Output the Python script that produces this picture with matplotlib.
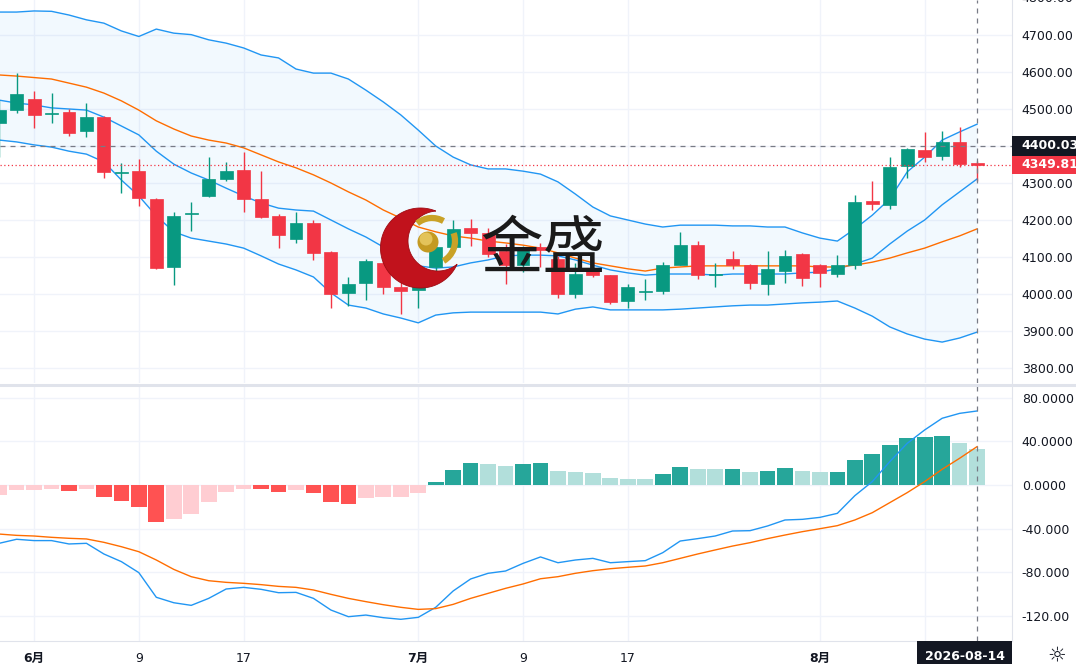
import numpy as np
import pandas as pd
import matplotlib
matplotlib.use("Agg")
import matplotlib.pyplot as plt
import matplotlib.transforms as mtransforms
from matplotlib.patches import Rectangle, Circle, Arc, Polygon

plt.rcParams['font.family'] = ['DejaVu Sans', 'Noto Sans CJK SC']

# trading days on screen
dates = pd.bdate_range("2026-05-28", "2026-08-14")

opens = [4462, 4498, 4527, 4487, 4492, 4441, 4478, 4328, 4333, 4258,
         4072, 4217, 4264, 4312, 4335, 4258, 4210, 4148, 4193, 4113,
         4002, 4031, 4084, 4020, 4010, 4072, 4126, 4178, 4165, 4117,
         4077, 4126, 4095, 4001, 4068, 4050, 3980, 4006, 4009, 4079,
         4133, 4052, 4095, 4079, 4027, 4063, 4107, 4079, 4054, 4079,
         4251, 4240, 4347, 4389, 4373, 4410, 4352]
highs = [4525, 4596, 4548, 4544, 4500, 4517, 4481, 4354, 4364, 4260,
         4221, 4249, 4371, 4356, 4385, 4332, 4215, 4221, 4199, 4116,
         4045, 4095, 4090, 4036, 4070, 4135, 4199, 4204, 4178, 4135,
         4130, 4137, 4104, 4083, 4095, 4052, 4027, 4041, 4087, 4167,
         4142, 4083, 4117, 4082, 4117, 4119, 4111, 4081, 4106, 4267,
         4305, 4371, 4395, 4437, 4441, 4451, 4360]
lows = [4370, 4490, 4449, 4463, 4428, 4425, 4313, 4272, 4237, 4068,
        4025, 4170, 4262, 4306, 4221, 4205, 4123, 4139, 4093, 3962,
        3968, 3984, 4001, 3947, 3962, 4062, 4120, 4131, 4100, 4027,
        4059, 4074, 3988, 3990, 4045, 3973, 3963, 3984, 4000, 4078,
        4040, 4020, 4068, 4013, 3998, 4030, 4022, 4020, 4045, 4068,
        4226, 4231, 4314, 4357, 4362, 4344, 4305]
closes = [4498, 4540, 4484, 4490, 4435, 4478, 4330, 4331, 4260, 4070,
          4211, 4220, 4310, 4333, 4258, 4208, 4160, 4193, 4111, 3999,
          4027, 4090, 4018, 4008, 4065, 4126, 4176, 4166, 4108, 4077,
          4124, 4120, 4001, 4054, 4050, 3977, 4018, 4009, 4079, 4133,
          4051, 4055, 4078, 4030, 4068, 4104, 4042, 4057, 4077, 4248,
          4243, 4344, 4392, 4369, 4410, 4351, 4349.81]

bb_upper = [4762, 4762, 4765, 4764, 4754, 4741, 4732, 4711, 4696, 4716,
            4705, 4701, 4687, 4678, 4665, 4646, 4638, 4608, 4597, 4597,
            4581, 4551, 4519, 4484, 4443, 4400, 4370, 4349, 4338, 4338,
            4332, 4324, 4303, 4270, 4235, 4211, 4200, 4189, 4181, 4186,
            4186, 4186, 4184, 4184, 4181, 4181, 4165, 4151, 4143, 4176,
            4213, 4257, 4330, 4370, 4416, 4438, 4459]
bb_mid = [4592, 4589, 4585, 4581, 4570, 4559, 4543, 4522, 4497, 4468,
          4446, 4427, 4416, 4408, 4395, 4376, 4357, 4341, 4322, 4300,
          4276, 4254, 4227, 4205, 4181, 4168, 4157, 4151, 4143, 4138,
          4132, 4124, 4111, 4097, 4084, 4076, 4068, 4062, 4070, 4073,
          4076, 4076, 4076, 4076, 4076, 4076, 4076, 4073, 4073, 4078,
          4086, 4097, 4111, 4124, 4141, 4157, 4176]
bb_lower = [4416, 4411, 4403, 4397, 4386, 4378, 4357, 4308, 4265, 4211,
            4168, 4151, 4143, 4135, 4124, 4103, 4081, 4065, 4046, 4003,
            3970, 3962, 3946, 3935, 3922, 3943, 3949, 3951, 3951, 3951,
            3951, 3951, 3946, 3959, 3965, 3957, 3957, 3957, 3957, 3959,
            3962, 3965, 3968, 3970, 3970, 3973, 3976, 3978, 3981, 3962,
            3940, 3911, 3892, 3878, 3870, 3881, 3897]
ma_short = [4524, 4516, 4511, 4503, 4500, 4497, 4478, 4454, 4430, 4386,
            4351, 4327, 4308, 4286, 4265, 4246, 4232, 4227, 4224, 4200,
            4176, 4154, 4127, 4100, 4076, 4070, 4073, 4084, 4092, 4103,
            4105, 4105, 4103, 4092, 4078, 4065, 4057, 4051, 4054, 4054,
            4054, 4051, 4054, 4054, 4054, 4054, 4057, 4059, 4068, 4081,
            4097, 4135, 4170, 4200, 4241, 4276, 4311]

macd = [-53.5, -49.8, -51.0, -51.0, -54.1, -53.5, -63.3, -70.3, -80.4, -103.0,
        -108.0, -110.4, -104.0, -95.4, -93.9, -95.7, -98.8, -98.5, -104.0, -114.7,
        -120.8, -119.3, -121.7, -123.2, -121.4, -112.2, -97.2, -86.2, -81.0, -78.9,
        -71.9, -66.0, -71.3, -68.8, -67.3, -71.3, -70.3, -69.4, -62.1, -51.4,
        -49.2, -46.8, -42.2, -41.9, -37.6, -32.1, -31.5, -29.7, -26.0, -9.8,
        3.1, 21.4, 38.2, 50.5, 61.2, 65.7, 67.9]
signal = [-45.0, -46.2, -46.8, -48.0, -48.9, -49.5, -52.6, -56.6, -61.2, -68.8,
          -77.4, -84.1, -87.8, -89.3, -90.2, -91.4, -93.0, -93.9, -96.3, -100.3,
          -104.0, -107.0, -109.8, -112.2, -114.1, -113.4, -109.5, -104.0, -99.4, -94.8,
          -90.8, -86.0, -84.1, -81.0, -78.6, -76.8, -75.5, -74.3, -71.3, -67.3,
          -63.3, -59.6, -56.0, -52.9, -49.2, -45.9, -42.8, -40.1, -37.3, -32.1,
          -25.4, -16.2, -7.0, 3.1, 14.4, 24.5, 35.2]
hist = [-9.2, -4.6, -4.4, -3.7, -5.5, -3.7, -11.3, -14.4, -19.9, -33.6,
        -31.5, -26.6, -15.9, -6.1, -3.7, -4.0, -6.1, -4.6, -7.6, -15.9,
        -17.4, -11.6, -11.4, -11.0, -7.0, 3.1, 13.8, 19.9, 19.6, 17.7,
        19.0, 20.5, 12.8, 11.9, 10.7, 6.1, 5.5, 5.3, 10.1, 16.2,
        15.0, 14.4, 15.0, 12.2, 13.1, 15.6, 12.8, 11.6, 12.2, 22.9,
        28.4, 36.7, 43.4, 44.3, 45.0, 38.8, 33.3]

tick_days = ["2026-06-01", "2026-06-09", "2026-06-17", "2026-07-01",
             "2026-07-09", "2026-07-17", "2026-08-03", "2026-08-11"]
price_ticks = [3800, 3900, 4000, 4100, 4200, 4300, 4400, 4500, 4600, 4700]
macd_ticks = [80, 40, 0, -40, -80, -120]
macd_labels = ["80.0000", "40.0000", "0.0000", "-40.000", "-80.000", "-120.00"]
cross_price = 4400.03
cross_date = "2026-08-14"

UP, DOWN = '#089981', '#f23645'
BLUE, ORANGE = '#2196f3', '#ff6d00'
TXT, GRID = '#131722', '#f0f3fa'

W, H = 1076, 664
fig = plt.figure(figsize=(W / 100, H / 100), dpi=100)
ax1 = fig.add_axes([0, 281 / H, 1012 / W, 383 / H])
ax2 = fig.add_axes([0, 23 / H, 1012 / W, 255 / H])

x = np.arange(len(dates))
o, h, l, c = map(np.array, (opens, highs, lows, closes))
ci = dates.get_loc(pd.Timestamp(cross_date))

tick_idx = [dates.get_loc(pd.Timestamp(d)) for d in tick_days]
tick_lab = []
for i in tick_idx:
    if abs(i - ci) < 4:
        tick_lab.append("")          # hidden under the crosshair date label
    elif i == 0 or dates[i].month != dates[i - 1].month:
        tick_lab.append(f"{dates[i].month}月")
    else:
        tick_lab.append(str(dates[i].day))

for ax in (ax1, ax2):
    ax.set_xlim(0.05, 58.0)
    ax.grid(True, color=GRID, lw=1)
    ax.set_axisbelow(True)
    ax.yaxis.tick_right()
    ax.tick_params(axis='y', length=0, pad=7, labelsize=9, labelcolor=TXT)
    ax.tick_params(axis='x', length=0)
    for s in ['top', 'left', 'bottom']:
        ax.spines[s].set_visible(False)
    ax.spines['right'].set_color('#e0e3eb')
    ax.set_xticks(tick_idx)

# main pane
ax1.set_ylim(3759.4, 4794.6)
ax1.set_yticks(price_ticks)
# scale labels covered by the crosshair price box are not shown
ax1.set_yticklabels(["" if abs(v - cross_price) < 30 else f"{v:.2f}" for v in price_ticks])
ax1.set_xticklabels([])

ax1.fill_between(x, bb_lower, bb_upper, color=BLUE, alpha=0.055, lw=0)
ax1.plot(x, bb_upper, color=BLUE, lw=1)
ax1.plot(x, bb_lower, color=BLUE, lw=1)
ax1.plot(x, ma_short, color=BLUE, lw=1)
ax1.plot(x, bb_mid, color=ORANGE, lw=1)

col = np.where(c >= o, UP, DOWN)
ax1.vlines(x, l, h, colors=col, lw=1, zorder=3)
ax1.bar(x, np.maximum(np.abs(c - o), 3), bottom=np.minimum(o, c), width=0.74,
        color=col, edgecolor=col, lw=0.5, zorder=4)

ax1.axhline(cross_price, color='#787b86', lw=0.9, ls=(0, (4, 4)), zorder=5)
ax1.axhline(c[-1], color=DOWN, lw=0.9, ls=(0, (1, 2)), zorder=5)
ax1.axvline(ci, color='#787b86', lw=0.9, ls=(0, (4, 4)), zorder=5)

trans1 = mtransforms.blended_transform_factory(ax1.transAxes, ax1.transData)
px = (4794.6 - 3759.4) / 383
ax1.text(1.0 + 9.7 / 1012, 4800, "4800.00", transform=trans1, ha='left', va='center',
         fontsize=9, color=TXT, clip_on=False)
for val, fc, hh in [(cross_price, TXT, 10), (c[-1], DOWN, 9)]:
    ax1.add_patch(Rectangle((1.0, val - hh * px), 0.07, 2 * hh * px, transform=trans1,
                            fc=fc, ec='none', clip_on=False, zorder=10))
    ax1.text(1.0 + 9.7 / 1012, val, f"{val:.2f}", transform=trans1, ha='left', va='center',
             fontsize=9, color='white', fontweight='bold', clip_on=False, zorder=11)

# MACD pane
ax2.set_ylim(-143.1, 90.8)
ax2.set_yticks(macd_ticks)
ax2.set_yticklabels(macd_labels)
ax2.spines['bottom'].set_visible(True)
ax2.spines['bottom'].set_color('#e0e3eb')

hv = np.array(hist)
prev = np.concatenate([[-np.inf], hv[:-1]])
hcol = np.where(hv >= 0, np.where(hv > prev, '#26a69a', '#b2dfdb'),
                np.where(hv > prev, '#ffcdd2', '#ff5252'))
ax2.bar(x, hv, width=0.9, color=hcol, lw=0, zorder=2)
ax2.plot(x, macd, color=BLUE, lw=1, zorder=3)
ax2.plot(x, signal, color=ORANGE, lw=1, zorder=3)
ax2.axvline(ci, color='#787b86', lw=0.9, ls=(0, (4, 4)), zorder=5)

ax2.set_xticklabels(tick_lab)
ax2.tick_params(axis='x', pad=8, labelsize=9, labelcolor=TXT)
for t in ax2.get_xticklabels():
    if '月' in t.get_text():
        t.set_fontweight('bold')

ax2.add_patch(Rectangle((1 - 95 / 1012, -0.11), 95 / 1012, 0.11, transform=ax2.transAxes,
                        fc=TXT, ec='none', clip_on=False, zorder=10))
ax2.text(1 - 47.5 / 1012, -16 / 255, dates[ci].strftime("%Y-%m-%d"), transform=ax2.transAxes,
         ha='center', va='center', fontsize=9, color='white', fontweight='bold',
         clip_on=False, zorder=11)

# overlay: pane separator, watermark, settings icon
ov = fig.add_axes([0, 0, 1, 1])
ov.set_xlim(0, W)
ov.set_ylim(H, 0)
ov.axis('off')
ov.patch.set_alpha(0)
ov.plot([0, W], [384.5, 384.5], color='#e0e3eb', lw=2.2)

c1, r1 = np.array([420.5, 248.0]), 40.0
c2, r2 = np.array([438.0, 241.0]), 30.0
th = np.linspace(0, 2 * np.pi, 721)
p1 = c1 + r1 * np.column_stack([np.cos(th), np.sin(th)])
p2 = c2 + r2 * np.column_stack([np.cos(th), np.sin(th)])
outer = p1[np.hypot(*(p1 - c2).T) > r2]
inner = p2[np.hypot(*(p2 - c1).T) < r1][::-1]
ov.add_patch(Polygon(np.vstack([outer, inner]), closed=True, fc='#c1121c', ec='#9e0b12', lw=0.6))
ov.add_patch(Arc((432, 241), 46, 46, theta1=230, theta2=300, color='#c9a227', lw=4.5))
ov.add_patch(Arc((432, 241), 46, 46, theta1=-20, theta2=60, color='#c9a227', lw=4.5))
ov.add_patch(Circle((428, 242), 10.5, fc='#c49a22', ec='none'))
ov.add_patch(Circle((426, 239), 6.5, fc='#e3c35a', ec='none'))
ov.text(543, 250, "金盛", fontsize=45, family=['Noto Sans CJK SC'], ha='center', va='center',
        color='#1a1a1a')

ov.text(1057, 655, "\u263c", fontsize=15, ha='center', va='center', color=TXT)

fig.savefig("out.png", dpi=100)
